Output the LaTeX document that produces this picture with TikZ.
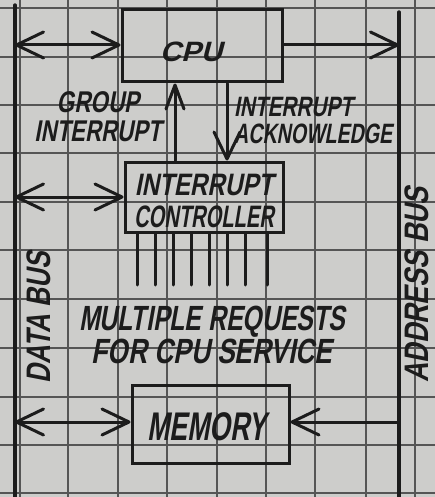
\documentclass[tikz,border=0pt]{standalone}
\usepackage{fontspec}
\usepackage{graphicx}
\usetikzlibrary{arrows.meta}

% slanted marker-style lettering
\newfontfamily\hand[FakeSlant=0.25]{Liberation Sans Bold}
\newcommand\hs[2]{\hand\fontsize{#1}{#2}\selectfont}
\newcommand\sx[2]{\scalebox{#1}[1]{#2}}

\definecolor{paper}{HTML}{CDCDCB}
\definecolor{gridink}{HTML}{555555}
\definecolor{ink}{HTML}{1C1C1C}

\tikzset{
  gridline/.style={gridink, line width=1.2pt},
  bus/.style={ink, line width=3.4pt, line cap=round},
  blk/.style={draw=ink, line width=3pt, inner sep=0pt},
  link/.style={ink, line width=3pt, line cap=round},
  barb/.tip={Straight Barb[length=27pt, width=26pt, line cap=round, line join=round]},
  sbarb/.tip={Straight Barb[length=24pt, width=18pt, line cap=round, line join=round]},
  lbl/.style={ink, anchor=base, inner sep=0pt},
}

\begin{document}
\begin{tikzpicture}[x=1pt, y=-1pt]
  % squared paper
  \fill[paper] (0,0) rectangle (435,497);
  \useasboundingbox (0,0) rectangle (435,497);
  \foreach \gx in {20,68,118,167,217,266,315,366,415}
    \draw[gridline] (\gx,0) -- (\gx,497);
  \foreach \gy in {8,57,105,153,202,250,299,348,397,445,493}
    \draw[gridline] (0,\gy) -- (435,\gy);

  % buses
  \coordinate (dbT) at (15,5);
  \coordinate (dbB) at (15,497);
  \coordinate (abT) at (399,12);
  \coordinate (abB) at (399,497);
  \draw[bus] (dbT) -- (dbB);
  \draw[bus] (abT) -- (abB);

  % blocks
  \node[blk, minimum width=160pt, minimum height=72pt] (cpu)  at (202,46) {};
  \node[blk, minimum width=158pt, minimum height=70pt] (ctrl) at (204,197) {};
  \node[blk, minimum width=157pt, minimum height=78pt] (mem)  at (210.5,424) {};

  % bus connections
  \coordinate (db1) at (15,45);
  \coordinate (db2) at (15,197);
  \coordinate (db3) at (15,422);
  \coordinate (ab1) at (399,45);
  \coordinate (ab3) at (399,422);
  \draw[link, barb-barb] (db1) -- (cpu.west |- db1);
  \draw[link, -barb] (cpu.east |- ab1) -- (ab1);
  \draw[link, barb-barb] (db2) -- (ctrl.west |- db2);
  \draw[link, barb-barb] (db3) -- (mem.west |- db3);
  \draw[link, -barb] (ab3) -- (mem.east |- ab3);

  % interrupt handshake
  \coordinate (gix) at (175,0);
  \coordinate (akx) at (227,0);
  \draw[link, -sbarb] (ctrl.north -| gix) -- (cpu.south -| gix);
  \draw[link, -barb] (cpu.south -| akx) -- (ctrl.north -| akx);

  % request lines
  \foreach \rx [count=\i] in {137,155,173,191,209,227,245,267} {
    \coordinate (req\i) at (\rx,285);
    \draw[link] (ctrl.south -| req\i) -- (req\i);
  }

  % lettering (multi-line labels are anchored on their last baseline)
  \node[lbl, font=\hs{28}{30}] (cpuL) at (191,62) {\sx{1.05}{CPU}};
  \node[lbl, font=\hs{30}{29}, align=center] (giL) at (98,142)
    {\sx{0.75}{GROUP}\\\sx{0.74}{INTERRUPT}};
  \node[lbl, font=\hs{28}{28}, align=left, anchor=base west] (akL) at (234,144)
    {\sx{0.74}{INTERRUPT}\\\sx{0.70}{ACKNOWLEDGE}};
  \node[lbl, font=\hs{31}{32}, align=center] (ctL) at (204,227)
    {\sx{0.78}{INTERRUPT}\\\sx{0.65}{CONTROLLER}};
  \node[lbl, font=\hs{35}{31}, align=center] (rqL) at (212,363)
    {\sx{0.71}{MULTIPLE REQUESTS}\\\sx{0.75}{FOR CPU SERVICE}};
  \node[lbl, font=\hs{40}{40}] (memL) at (207,440) {\sx{0.67}{MEMORY}};
  \node[lbl, font=\hs{34}{34}, rotate=90] (dbL) at (50,318) {\sx{0.77}{DATA BUS}};
  \node[lbl, font=\hs{34}{34}, rotate=90] (abL) at (428,285) {\sx{0.79}{ADDRESS BUS}};
\end{tikzpicture}
\end{document}
